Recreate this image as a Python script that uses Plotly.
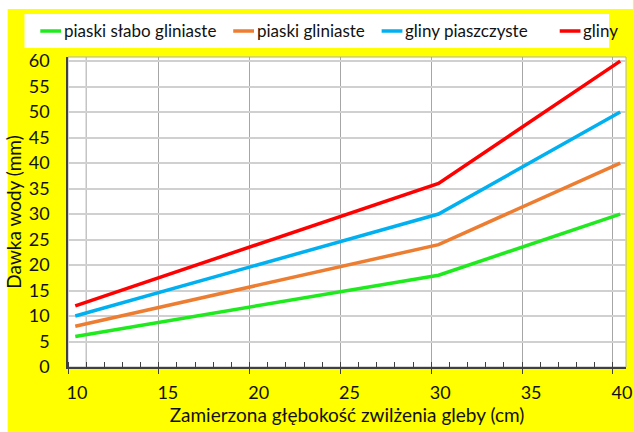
import plotly.graph_objects as go

# Irrigation dose vs. soil wetting depth for four soil groups
depth_cm = [10.4, 30.4, 40.4]
series_names = ["piaski słabo gliniaste", "piaski gliniaste", "gliny piaszczyste", "gliny"]
dose_piaski_slabo = [6, 18, 30]
dose_piaski_gliniaste = [8, 24, 40]
dose_gliny_piaszczyste = [10, 30, 50]
dose_gliny = [12, 36, 60]
series_colors = ["#1EEA1E", "#ED7D31", "#00B0F0", "#FF0000"]
x_ticks = [10, 15, 20, 25, 30, 35, 40]
y_ticks = list(range(0, 61, 5))

W, H = 634, 432
L, R, T, B = 68, 2, 57, 65
PW, PH = W - L - R, H - T - B


def px(x):
    return (x - L) / PW


def py(y):
    return (H - B - y) / PH


FONT = "Lato, 'Open Sans', sans-serif"
TXT = "#111111"

fig = go.Figure()
for name, vals, col in zip(series_names,
                           [dose_piaski_slabo, dose_piaski_gliniaste,
                            dose_gliny_piaszczyste, dose_gliny],
                           series_colors):
    fig.add_trace(go.Scatter(x=depth_cm, y=vals, name=name, mode="lines",
                             line=dict(color=col, width=3.5), showlegend=False))

shapes = [
    # thin white margin along the top and left of the yellow panel
    dict(type="rect", xref="paper", yref="paper", x0=px(-5), x1=px(W + 5),
         y0=py(9), y1=py(-5), fillcolor="white", line_width=0, layer="below"),
    dict(type="rect", xref="paper", yref="paper", x0=px(-5), x1=px(7),
         y0=py(H + 5), y1=py(-5), fillcolor="white", line_width=0, layer="below"),
    # white legend box
    dict(type="rect", xref="paper", yref="paper", x0=px(24), x1=px(615),
         y0=py(48), y1=py(14), fillcolor="white", line_width=0, layer="below"),
    # extra vertical grid line near the left edge
    dict(type="line", xref="x", yref="paper", x0=11, x1=11, y0=0, y1=1,
         line=dict(color="#A6A6A6", width=1), layer="below"),
    # light plot frame
    dict(type="rect", xref="paper", yref="paper", x0=0, x1=1, y0=0, y1=1,
         line=dict(color="#B0B0B0", width=1), layer="below"),
]

# legend entries: short coloured stroke followed by the series name
legend_starts = [40, 235, 385, 565]
annotations = []
for name, col, x0 in zip(series_names, series_colors, legend_starts):
    shapes.append(dict(type="line", xref="paper", yref="paper",
                       x0=px(x0), x1=px(x0 + 21), y0=py(31), y1=py(31),
                       line=dict(color=col, width=3.5)))
    annotations.append(dict(text=name, xref="paper", yref="paper",
                            x=px(x0 + 22), y=py(31), xanchor="left", yanchor="middle",
                            showarrow=False, font=dict(size=17, color=TXT)))

fig.update_layout(
    width=W, height=H,
    margin=dict(l=L, r=R, t=T, b=B),
    paper_bgcolor="#FFFF00",
    plot_bgcolor="white",
    font=dict(family=FONT, size=18, color=TXT),
    shapes=shapes,
    annotations=annotations,
    showlegend=False,
    xaxis=dict(
        range=[10, 40.72], tickvals=x_ticks, ticktext=[str(v) for v in x_ticks],
        showgrid=True, gridcolor="#A6A6A6", gridwidth=1,
        showline=True, linecolor="#404040", linewidth=1.5,
        ticks="outside", ticklen=5, tickcolor="#404040",
        ticklabelshift=9, ticklabelstandoff=4, ticklabeloverflow="allow",
        minor=dict(dtick=1, tick0=10, ticks="inside", ticklen=5, tickcolor="#404040",
                   showgrid=False),
        zeroline=False,
        title=dict(text="Zamierzona głębokość zwilżenia gleby (cm)", standoff=5,
                   font=dict(size=19)),
    ),
    yaxis=dict(
        range=[0, 60.8], tickvals=y_ticks,
        showgrid=True, gridcolor="#D0D0D0", gridwidth=2,
        showline=True, linecolor="#404040", linewidth=1.5,
        ticks="", ticklabelstandoff=13,
        zeroline=False,
        title=dict(text="Dawka wody (mm)", standoff=2, font=dict(size=19)),
    ),
)

fig.write_html("out.html")
